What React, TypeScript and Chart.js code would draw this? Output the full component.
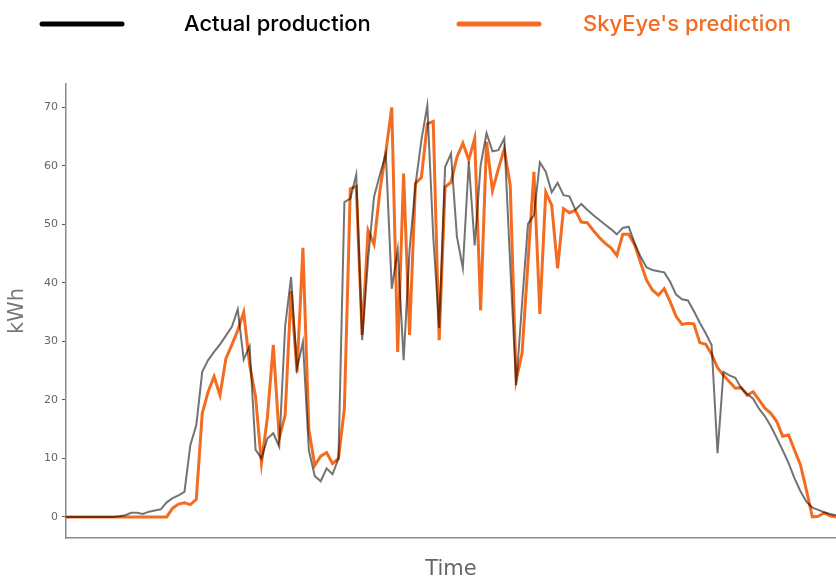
import React, { useEffect, useRef } from 'react';
import { Chart, registerables } from 'chart.js';

Chart.register(...registerables);

// ---- data ----
const actualProduction = [
  0, 0, 0, 0, 0, 0, 0, 0, 0, 0.1,
  0.3, 0.7, 0.7, 0.5, 0.9, 1.1, 1.3, 2.5, 3.2, 3.7,
  4.3, 12.3, 15.7, 24.8, 26.8, 28.2, 29.5, 31, 32.5, 35.5,
  26.9, 29.2, 11.5, 10, 13.4, 14.3, 12, 32.6, 41, 25.4,
  29.9, 11.4, 7, 6.1, 8.3, 7.3, 10, 53.8, 54.4, 58.5,
  30.2, 44, 54.7, 58.5, 62.1, 39, 45.7, 26.8, 45.6, 56.7,
  64.4, 70.3, 48, 32.3, 59.8, 62.1, 47.9, 42.5, 60.7, 46.4,
  60.1, 65.6, 62.5, 62.7, 64.7, 43, 22.5, 36.5, 50.1, 51.6,
  60.6, 59, 55.5, 57.1, 55, 54.8, 52.5, 53.5, 52.5, 51.6,
  50.8, 50, 49.2, 48.3, 49.4, 49.6, 46.8, 44.5, 42.7, 42.2,
  42, 41.8, 40.2, 38, 37.2, 37, 35.2, 33.2, 31.4, 29.4,
  10.9, 24.8, 24.2, 23.8, 22, 21, 20.2, 18.5, 17.2, 15.5,
  13.5, 11.4, 9.2, 6.6, 4.4, 2.6, 1.6, 1.2, 0.8, 0.5,
  0.3,
];

const skyeyePrediction = [
  0, 0, 0, 0, 0, 0, 0, 0, 0, 0,
  0, 0, 0, 0, 0, 0, 0, 0, 1.5, 2.2,
  2.4, 2.1, 3, 17.7, 21.4, 24, 20.8, 27.1, 29.4, 31.9,
  35, 26, 20.6, 9.2, 17, 29.4, 13.5, 17.4, 38.6, 24.7,
  46, 15, 8.8, 10.4, 11, 9.1, 10, 18.5, 56.1, 56.5,
  31.1, 49, 46.6, 55.8, 62.4, 70, 28.2, 58.7, 31.1, 57,
  58, 67.2, 67.6, 30.2, 56.4, 57.2, 61.5, 63.9, 61, 64.7,
  35.3, 64.1, 55.8, 59.5, 62.9, 56.7, 23.4, 28, 43.5, 59,
  34.7, 55.5, 53.3, 42.5, 52.7, 52, 52.4, 50.4, 50.3, 49,
  47.8, 46.8, 46, 44.7, 48.3, 48.3, 46.5, 43.5, 40.5, 38.8,
  37.9, 39, 36.8, 34.3, 32.9, 33.1, 33, 29.8, 29.5, 27.8,
  25.5, 24.2, 23.1, 22, 22.1, 20.8, 21.4, 20, 18.6, 17.7,
  16.3, 13.8, 14, 11.4, 8.9, 4.6, 0, 0.1, 0.7, 0.2,
  0,
];

const timeLabels = actualProduction.map((_, i) => String(i));
const yTickValues = [0, 10, 20, 30, 40, 50, 60, 70];
const seriesNames = ['Actual production', "SkyEye's prediction"];
const yTitle = 'kWh';
const xTitle = 'Time';

const ORANGE = '#f36c21';
const GREY_LINE = 'rgba(0,0,0,0.55)';
const AXIS_FONT = "'DejaVu Sans', sans-serif";

const topLegend = {
  id: 'topLegend',
  afterDraw(chart: any) {
    const ctx = chart.ctx as CanvasRenderingContext2D;
    const items = [
      { lineX: 42, textX: 184, line: '#000000', text: '#000000', label: chart.data.datasets[0].label },
      { lineX: 459, textX: 583, line: ORANGE, text: ORANGE, label: chart.data.datasets[1].label },
    ];
    ctx.save();
    for (const it of items) {
      ctx.beginPath();
      ctx.strokeStyle = it.line;
      ctx.lineWidth = 5;
      ctx.lineCap = 'round';
      ctx.moveTo(it.lineX, 24);
      ctx.lineTo(it.lineX + 80, 24);
      ctx.stroke();
      ctx.fillStyle = it.text;
      ctx.font = "500 22px Inter, 'Noto Sans', sans-serif";
      ctx.textBaseline = 'middle';
      ctx.textAlign = 'left';
      ctx.fillText(it.label, it.textX, 24);
    }
    ctx.restore();
  },
};

export default function App() {
  const canvasRef = useRef<HTMLCanvasElement | null>(null);

  useEffect(() => {
    if (!canvasRef.current) return;
    const chart = new Chart(canvasRef.current, {
      type: 'line',
      data: {
        labels: timeLabels,
        datasets: [
          {
            label: seriesNames[0],
            data: actualProduction,
            borderColor: GREY_LINE,
            borderWidth: 2,
            pointRadius: 0,
            tension: 0,
            fill: false,
          },
          {
            label: seriesNames[1],
            data: skyeyePrediction,
            borderColor: ORANGE,
            borderWidth: 3,
            pointRadius: 0,
            tension: 0,
            fill: false,
          },
        ],
      },
      options: {
        responsive: false,
        animation: false,
        layout: { padding: { top: 84, left: 0, right: 0, bottom: 0 } },
        plugins: {
          legend: { display: false },
          tooltip: { enabled: false },
          title: { display: false },
        },
        scales: {
          x: {
            type: 'category',
            offset: false,
            grid: { display: false },
            border: { display: true, color: '#8a8a8a', width: 1.5 },
            ticks: { display: false },
            title: {
              display: true,
              text: xTitle,
              color: '#666666',
              font: { family: AXIS_FONT, size: 21, lineHeight: '12px' as any },
              padding: { top: 0, bottom: 0 },
            },
            afterFit: (scale: any) => {
              scale.height = 38;
            },
          },
          y: {
            min: -3.6,
            max: 74,
            grid: {
              display: true,
              drawOnChartArea: false,
              drawTicks: true,
              tickLength: 4,
              color: '#555555',
            },
            border: { display: true, color: '#8a8a8a', width: 1.5 },
            ticks: {
              color: '#666666',
              font: { family: AXIS_FONT, size: 11 },
              padding: 4,
            },
            afterBuildTicks: (scale: any) => {
              scale.ticks = yTickValues.map((v) => ({ value: v }));
            },
            title: {
              display: true,
              text: yTitle,
              color: '#777777',
              font: { family: AXIS_FONT, size: 21 },
              padding: { top: 5, bottom: 0 },
            },
            afterFit: (scale: any) => {
              scale.width = 66;
            },
          },
        },
      },
      plugins: [topLegend],
    });
    return () => chart.destroy();
  }, []);

  return (
    <div style={{ position: 'absolute', left: 0, top: 0, width: 836, height: 576, background: '#fff' }}>
      <canvas ref={canvasRef} width={836} height={576} />
    </div>
  );
}
